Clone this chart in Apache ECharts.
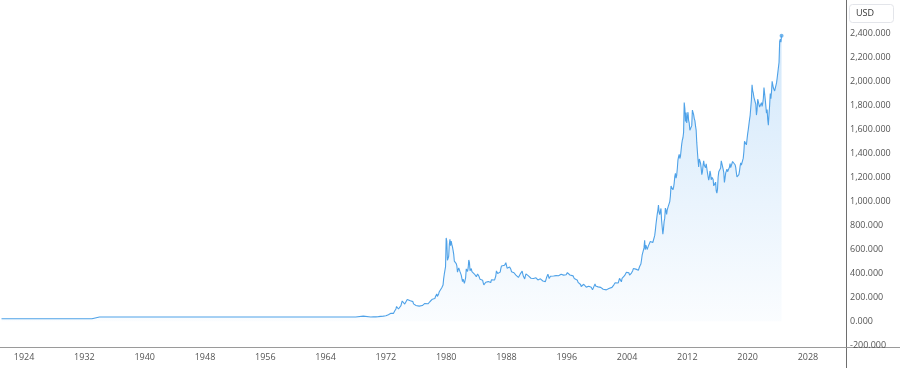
<!DOCTYPE html>
<html>
<head>
<meta charset="utf-8">
<script src="https://cdn.jsdelivr.net/npm/echarts@6/dist/echarts.min.js"></script>
<style>
html,body{margin:0;padding:0;background:#fff;}
#chart{width:900px;height:368px;}
</style>
</head>
<body>
<div id="chart"></div>
<script>
// ---- data (gold price, USD per ounce) ----
const earlyYears = [1921,1922,1923,1924,1925,1926,1927,1928,1929,1930,1931,1932,1933,1934,1935,1936,1937,1938,1939,1940,1941,1942,1943,1944,1945,1946,1947,1948,1949,1950,1951,1952,1953,1954,1955,1956,1957,1958,1959,1960,1961,1962,1963,1964,1965,1966,1967,1968,1969];
const earlyPrices = [20.67,20.67,20.67,20.67,20.67,20.67,20.67,20.67,20.67,20.67,20.67,20.67,20.67,35,35,35,35,35,35,35,35,35,35,35,35,35,35,35,35,35,35,35,35,35,35,35,35,35,35,35,35,35,35,35,35,35,35,35.5,42];

// monthly values, January of the decade's first year onward
const p1970s = [
 35.0,35.0,35.2,35.8,35.9,35.3,35.3,35.4,36.2,37.5,37.4,37.4,
 37.9,38.7,38.9,39.0,40.5,40.1,41.0,42.7,42.0,42.5,42.9,43.5,
 45.8,48.3,48.3,49.0,54.6,62.1,65.7,67.0,65.5,64.9,62.9,63.9,
 65.1,74.2,84.4,90.5,102.0,122.5,120.2,106.7,102.0,100.1,94.8,106.7,
 129.2,150.2,168.4,172.2,163.3,154.1,143.0,154.6,151.8,158.8,181.7,183.9,
 176.3,179.6,178.2,170.0,167.4,164.2,165.2,163.1,144.3,142.8,142.8,139.3,
 131.6,131.0,132.6,128.2,126.9,125.8,117.9,109.5,114.0,116.0,130.4,133.9,
 132.3,136.3,148.2,149.1,146.6,140.8,143.3,144.8,149.5,158.8,162.1,160.5,
 173.2,178.2,183.7,175.3,176.3,183.7,188.7,206.1,212.4,227.3,206.3,207.0,
 227.3,245.7,242.1,239.2,257.6,279.1,294.7,300.8,355.1,391.7,392.5,455.1
];
const p1980s = [
 694,665,508,517,540,640,683,630,668,640,620,590,
 557,500,499,496,480,461,409,410,444,438,413,410,
 384,374,330,350,334,315,339,364,436,423,415,444,
 510,491,420,433,438,413,423,416,412,393,382,388,
 371,386,394,381,377,378,349,348,342,340,342,320,
 303,299,304,325,317,316,317,330,324,326,325,322,
 345,339,346,340,342,343,348,377,419,424,398,391,
 408,401,409,438,460,450,450,460,460,466,467,488,
 477,442,444,452,451,452,437,432,413,406,420,420,
 404,388,390,384,371,368,375,365,362,367,394,409
];
const p1990s = [
 410,417,393,374,369,352,362,395,389,381,382,378,
 384,364,363,358,357,367,368,356,349,359,360,362,
 354,354,344,339,337,341,353,343,345,344,335,335,
 329,329,330,342,367,372,392,380,355,364,374,383,
 387,382,384,377,381,386,386,380,392,390,384,379,
 379,376,382,391,385,388,386,384,383,383,385,387,
 400,405,396,393,392,385,384,388,383,381,378,369,
 355,347,352,345,344,341,324,324,323,325,306,289,
 289,298,296,308,299,292,293,284,289,296,294,292,
 287,287,286,283,276,261,256,257,265,311,293,283
];
const p2000s = [
 285,301,286,280,275,286,282,275,274,270,266,272,
 266,262,263,261,272,270,268,272,283,283,276,276,
 282,296,294,303,315,321,313,310,319,317,319,333,
 357,359,341,328,356,356,351,360,379,379,390,408,
 414,405,407,403,384,392,398,401,405,421,439,442,
 424,423,434,429,422,431,425,438,456,470,477,510,
 550,555,557,611,675,596,634,633,598,586,628,630,
 631,665,655,679,667,656,665,665,713,755,806,803,
 890,922,968,910,889,890,940,839,830,725,770,830,
 859,943,924,890,929,946,934,949,997,1043,1127,1135
];
const p2010s = [
 1118,1095,1113,1149,1205,1233,1193,1216,1271,1342,1370,1391,
 1356,1373,1424,1474,1510,1529,1573,1822,1772,1665,1739,1652,
 1656,1742,1674,1650,1591,1599,1590,1630,1760,1747,1722,1689,
 1672,1628,1593,1488,1414,1343,1286,1352,1349,1317,1276,1222,
 1244,1300,1336,1299,1289,1279,1311,1295,1237,1223,1175,1201,
 1252,1227,1179,1199,1199,1182,1128,1118,1125,1159,1086,1068,
 1098,1200,1245,1242,1261,1276,1337,1340,1327,1267,1238,1157,
 1192,1234,1231,1267,1246,1260,1237,1283,1314,1280,1282,1265,
 1331,1331,1325,1335,1304,1282,1238,1202,1198,1215,1221,1250,
 1292,1320,1301,1286,1284,1359,1413,1500,1511,1495,1470,1480
];
const p2020s = [
 1561,1597,1592,1680,1716,1732,1847,1970,1922,1900,1866,1858,
 1867,1808,1718,1760,1850,1835,1808,1785,1775,1777,1821,1790,
 1816,1856,1948,1937,1849,1837,1733,1765,1680,1634,1725,1798,
 1898,1855,1913,2000,1991,1943,1951,1919,1917,1917,1986,2026,
 2034,2023,2158,2331,2350,2326,2379
];

const xTickLabels = [1924,1932,1940,1948,1956,1964,1972,1980,1988,1996,2004,2012,2020,2028];
const yTickValues = [-200,0,200,400,600,800,1000,1200,1400,1600,1800,2000,2200,2400];
const currencyLabel = 'USD';

// ---- build series ----
const seriesData = [];
earlyYears.forEach((y, i) => seriesData.push([y, earlyPrices[i]]));
[[1970, p1970s], [1980, p1980s], [1990, p1990s], [2000, p2000s], [2010, p2010s], [2020, p2020s]]
  .forEach(([start, arr]) => arr.forEach((v, i) => seriesData.push([start + i / 12, v])));
const lastPoint = seriesData[seriesData.length - 1];

const chart = echarts.init(document.getElementById('chart'), null, {renderer: 'canvas'});
const FONT = 'Open Sans';
chart.setOption({
  animation: false,
  backgroundColor: '#ffffff',
  grid: {left: 0, right: 54, top: 0, bottom: 21, containLabel: false},
  xAxis: {
    type: 'value',
    min: 1920.8,
    max: 2033.05,
    axisLine: {show: true, onZero: false, lineStyle: {color: '#9a9a9a', width: 1}},
    axisTick: {show: false},
    splitLine: {show: false},
    axisLabel: {
      customValues: xTickLabels,
      formatter: v => String(Math.round(v)),
      color: '#555',
      fontFamily: FONT,
      fontSize: 9,
      margin: 6
    }
  },
  yAxis: {
    type: 'value',
    position: 'right',
    min: -215,
    max: 2677,
    axisLine: {show: true, onZero: false, lineStyle: {color: '#6e6e6e', width: 1}},
    axisTick: {show: false},
    splitLine: {show: false},
    axisLabel: {
      customValues: yTickValues,
      formatter: v => Number(v).toLocaleString('en-US', {minimumFractionDigits: 3, maximumFractionDigits: 3}),
      color: '#555',
      fontFamily: FONT,
      fontSize: 9,
      margin: 4,
      align: 'left'
    }
  },
  series: [
    {
      type: 'line',
      data: seriesData,
      showSymbol: false,
      symbol: 'none',
      lineStyle: {color: '#4fa2e8', width: 1.1},
      areaStyle: {
        color: new echarts.graphic.LinearGradient(0, 0, 0, 1, [
          {offset: 0, color: 'rgba(45,145,235,0.30)'},
          {offset: 1, color: 'rgba(45,145,235,0.03)'}
        ])
      },
      silent: true
    },
    {
      type: 'scatter',
      data: [lastPoint],
      symbol: 'circle',
      symbolSize: 4,
      itemStyle: {color: '#4fa2e8'},
      silent: true
    }
  ],
  graphic: [
    {type: 'line', shape: {x1: 846.5, y1: 347, x2: 846.5, y2: 368}, style: {stroke: '#6e6e6e', lineWidth: 1}, silent: true},
    {type: 'line', shape: {x1: 846, y1: 347.5, x2: 900, y2: 347.5}, style: {stroke: '#9a9a9a', lineWidth: 1}, silent: true},
    {type: 'rect', shape: {x: 849.5, y: 4.5, width: 44, height: 18, r: 3}, style: {fill: '#fff', stroke: '#e3e5ea', lineWidth: 1}, silent: true},
    {type: 'text', x: 856, y: 13.5, style: {text: currencyLabel, fill: '#333', font: '9px "Open Sans"', textVerticalAlign: 'middle'}, silent: true}
  ]
});
</script>
</body>
</html>
